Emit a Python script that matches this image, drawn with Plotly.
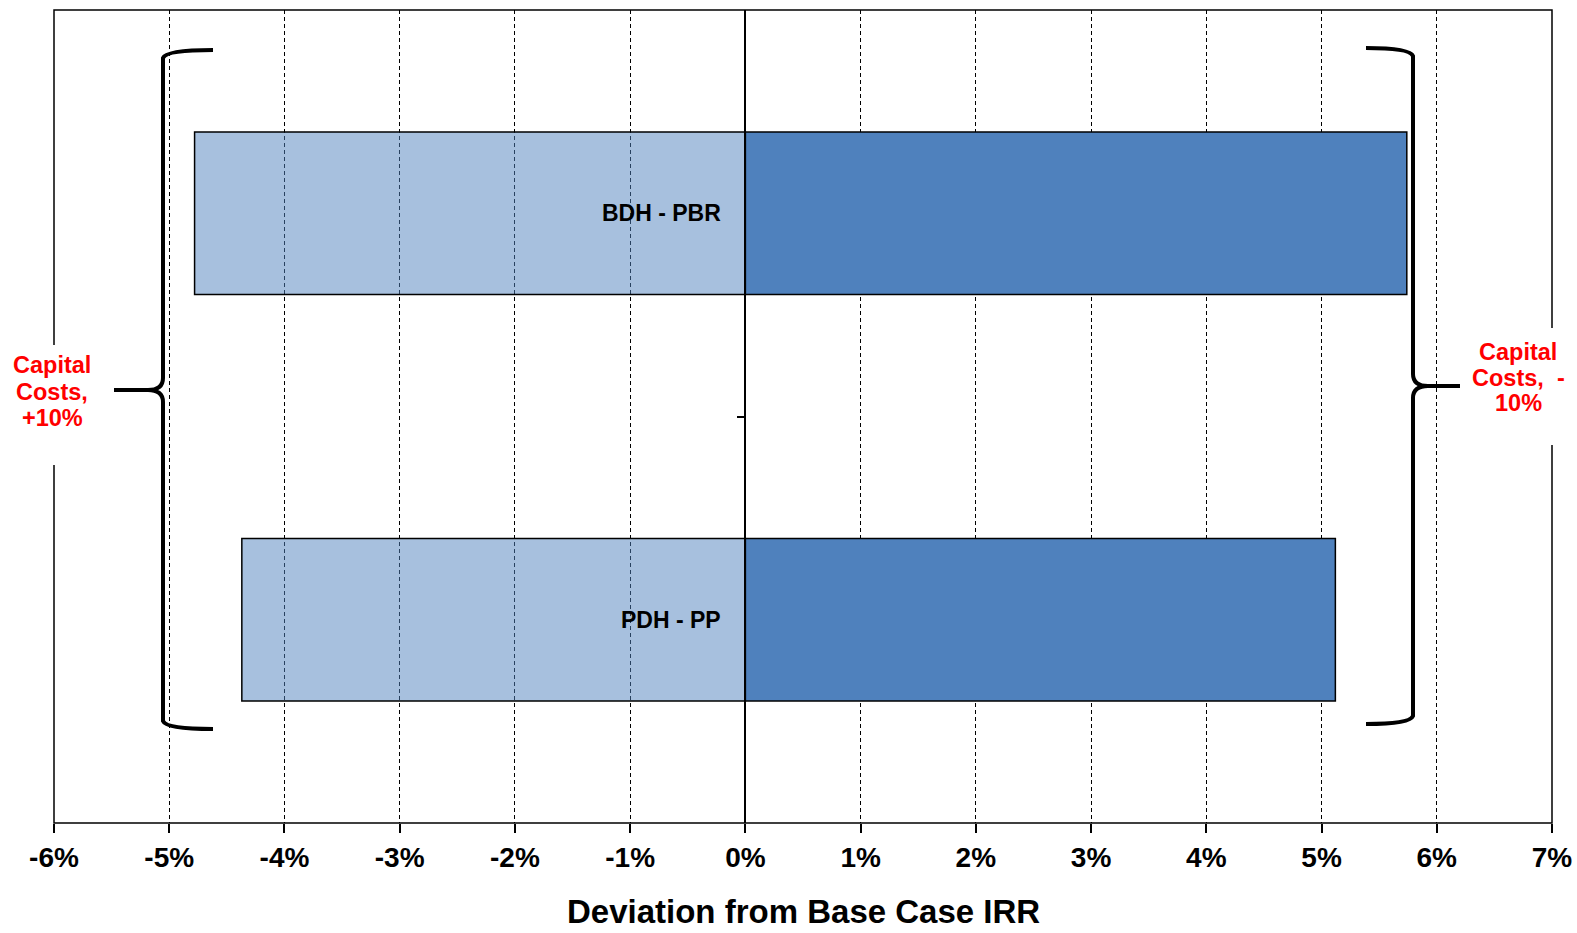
import plotly.graph_objects as go

# Sensitivity of IRR to a +/-10% change in capital costs
categories = ["PDH - PP", "BDH - PBR"]
capex_up_10 = [-4.37, -4.78]     # Capital Costs, +10%
capex_down_10 = [5.12, 5.74]     # Capital Costs, -10%
tick_values = [-6, -5, -4, -3, -2, -1, 0, 1, 2, 3, 4, 5, 6, 7]
tick_labels = [f"{v}%" for v in tick_values]
x_title = "Deviation from Base Case IRR"

W, H = 1577, 933
L, R, T, B = 54, 25, 10, 110
PW, PH = W - L - R, H - T - B


def px(x):
    return (x - L) / PW


def py(y):
    return (H - B - y) / PH


def path(points):
    out = []
    for cmd, *xy in points:
        coords = " ".join(
            f"{px(xy[i]):.5f},{py(xy[i + 1]):.5f}" for i in range(0, len(xy), 2)
        )
        out.append(f"{cmd} {coords}")
    return " ".join(out)


ypos = list(range(len(categories)))
fig = go.Figure()
fig.add_trace(go.Bar(
    y=ypos, x=capex_up_10, orientation="h", width=0.4,
    marker=dict(color="rgba(79,129,189,0.5)", line=dict(color="black", width=1.5)),
    name="Capital Costs, +10%", showlegend=False,
))
fig.add_trace(go.Bar(
    y=ypos, x=capex_down_10, orientation="h", width=0.4,
    marker=dict(color="#4F81BD", line=dict(color="black", width=1.5)),
    name="Capital Costs, -10%", showlegend=False,
))

tick_font = dict(family="Liberation Sans, Arial", size=28,
                 color="black", weight="bold")

fig.update_layout(
    width=W, height=H,
    margin=dict(l=L, r=R, t=T, b=B),
    plot_bgcolor="white", paper_bgcolor="white",
    barmode="overlay",
    xaxis=dict(
        range=[-6, 7], tickvals=tick_values, ticktext=tick_labels,
        automargin=False,
        showgrid=True, gridcolor="black", gridwidth=1, griddash="4px,3px",
        zeroline=False, showline=False,
        ticks="outside", ticklen=9, tickcolor="black", tickwidth=1.5,
        tickfont=tick_font,
    ),
    yaxis=dict(
        range=[-0.5, len(categories) - 0.5],
        anchor="free", position=6 / 13, automargin=False,
        showline=True, linecolor="black", linewidth=1.5,
        showgrid=False, zeroline=False,
        tickvals=[0.5], ticks="outside", ticklen=8, tickcolor="black",
        tickwidth=1.5, showticklabels=False,
    ),
)

# x-axis title, centred under the plot area
fig.add_annotation(xref="paper", yref="paper", x=0.5, y=py(911),
                   text=x_title, showarrow=False, borderpad=0,
                   xanchor="center", yanchor="middle",
                   font=dict(family="Liberation Sans, Arial", size=33,
                             color="black", weight="bold"))

# plot frame, with gaps behind the side captions
fig.add_shape(type="rect", xref="paper", yref="paper", x0=0, x1=1, y0=0, y1=1,
              line=dict(color="black", width=1.5))
fig.add_shape(type="rect", xref="paper", yref="paper",
              x0=px(50), x1=px(58), y0=py(465), y1=py(345),
              line=dict(width=0), fillcolor="white")
fig.add_shape(type="rect", xref="paper", yref="paper",
              x0=px(1548), x1=px(1556), y0=py(445), y1=py(328),
              line=dict(width=0), fillcolor="white")

# curly braces grouping each side
brace_line = dict(color="black", width=4)
left_brace = path([
    ("M", 213, 50), ("Q", 166, 50, 163, 58), ("L", 163, 378),
    ("Q", 163, 390, 148, 390), ("L", 114, 390), ("L", 148, 390),
    ("Q", 163, 390, 163, 402), ("L", 163, 721), ("Q", 166, 729, 213, 729),
])
right_brace = path([
    ("M", 1366, 48), ("Q", 1410, 48, 1413, 56), ("L", 1413, 374),
    ("Q", 1413, 386, 1428, 386), ("L", 1460, 386), ("L", 1428, 386),
    ("Q", 1413, 386, 1413, 398), ("L", 1413, 716), ("Q", 1410, 724, 1366, 724),
])
for p in (left_brace, right_brace):
    fig.add_shape(type="path", path=p, xref="paper", yref="paper", line=brace_line)

# side captions, one annotation per line for tight line spacing
cap_font = dict(family="Liberation Sans, Arial", size=23.5, color="#FF0000", weight="bold")
left_caption = [("Capital", 365), ("Costs,", 392), ("+10%", 418)]
right_caption = [("Capital", 352), ("Costs,&nbsp; -", 378), ("10%", 403)]
for cx, lines in ((52, left_caption), (1518, right_caption)):
    for text, cy in lines:
        fig.add_annotation(xref="paper", yref="paper", x=px(cx), y=py(cy),
                           text=text, showarrow=False,
                           xanchor="center", yanchor="middle", font=cap_font)

# category names at the inner end of each bar
for yi, name in zip(ypos, categories):
    fig.add_annotation(x=0, y=yi, text=name, showarrow=False,
                       xanchor="right", yanchor="middle", xshift=-22,
                       font=dict(family="Liberation Sans, Arial", size=23,
                                 color="black", weight="bold"))

fig.write_html("out.html")
